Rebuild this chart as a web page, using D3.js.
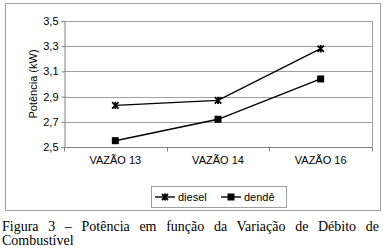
<!DOCTYPE html>
<html>
<head>
<meta charset="utf-8">
<script src="https://cdn.jsdelivr.net/npm/d3@7"></script>
<style>
	body { margin: 0; background: #fff; }
	.lbl { font-family: "Liberation Sans", Arial, sans-serif; }
</style>
</head>
<body>
<svg id="chart" width="383" height="250"></svg>
<script>
// data
const categories = ['VAZÃO 13', 'VAZÃO 14', 'VAZÃO 16'];
const diesel = [2.83, 2.87, 3.28];
const dende = [2.55, 2.72, 3.04];
const yTicks = [2.5, 2.7, 2.9, 3.1, 3.3, 3.5];
const seriesNames = ['diesel', 'dendê'];

const svg = d3.select('#chart');
const margin = {left: 64, right: 11, top: 21, bottom: 103};
const width = 383 - margin.left - margin.right,
	height = 250 - margin.top - margin.bottom;

// outer frame
svg.append('rect')
	.attr('x', 5.5).attr('y', 3.5)
	.attr('width', 375).attr('height', 207)
	.attr('fill', '#fff').attr('stroke', '#a0a0a0');

const g = svg.append('g')
	.attr('transform', 'translate(' + margin.left + ',' + margin.top + ')');

const x = d3.scaleBand().domain(categories).range([0, width]);
const y = d3.scaleLinear().domain([2.5, 3.5]).range([height, 0]);

// gridlines
g.append('g')
	.selectAll('line')
	.data(yTicks)
	.enter()
	.append('line')
	.attr('x1', 0).attr('x2', width)
	.attr('y1', d => Math.round(y(d)) + 0.5)
	.attr('y2', d => Math.round(y(d)) + 0.5)
	.attr('stroke', '#a0a0a0');

// right border of plot area
g.append('line')
	.attr('x1', width + 0.5).attr('x2', width + 0.5)
	.attr('y1', 0).attr('y2', height)
	.attr('stroke', '#a0a0a0');

// y axis
const yAxis = d3.axisLeft(y)
	.tickValues(yTicks)
	.tickSize(3)
	.tickPadding(3)
	.tickFormat(d => d3.format('.1f')(d).replace('.', ','));

const ya = g.append('g').attr('transform', 'translate(0.5,0)').call(yAxis);
ya.selectAll('path, line').attr('stroke', '#808080');
ya.selectAll('text').attr('class', 'lbl').attr('font-size', 11).attr('fill', '#000');

// x axis with ticks between categories
const xa = g.append('g').attr('transform', 'translate(0,' + (Math.round(height) + 0.5) + ')');
xa.append('line')
	.attr('x1', 0).attr('x2', width)
	.attr('stroke', '#808080');
xa.selectAll('.tick')
	.data(d3.range(categories.length + 1))
	.enter()
	.append('line')
	.attr('x1', i => Math.round(i * x.step()) + 0.5)
	.attr('x2', i => Math.round(i * x.step()) + 0.5)
	.attr('y1', 0).attr('y2', 4)
	.attr('stroke', '#808080');
xa.selectAll('text')
	.data(categories)
	.enter()
	.append('text')
	.attr('class', 'lbl')
	.attr('x', d => x(d) + x.bandwidth() / 2)
	.attr('y', 16)
	.attr('text-anchor', 'middle')
	.attr('font-size', 11)
	.text(d => d);

// y axis title
svg.append('text')
	.attr('class', 'lbl')
	.attr('transform', 'translate(37,' + (margin.top + height / 2) + ') rotate(-90)')
	.attr('text-anchor', 'middle')
	.attr('font-size', 11)
	.text('Potência (kW)');

const line = d3.line()
	.x((d, i) => x(categories[i]) + x.bandwidth() / 2)
	.y(d => y(d));

function starMarker(sel, s) {
	sel.append('path')
		.attr('d', 'M' + (-s) + ',' + (-s) + 'L' + s + ',' + s +
			'M' + (-s) + ',' + s + 'L' + s + ',' + (-s) +
			'M0,' + (-s - 0.5) + 'L0,' + (s + 0.5))
		.attr('stroke', '#000').attr('stroke-width', 1.8).attr('fill', 'none');
}

function squareMarker(sel, s) {
	sel.append('rect')
		.attr('x', -s).attr('y', -s)
		.attr('width', 2 * s).attr('height', 2 * s)
		.attr('fill', '#000');
}

[diesel, dende].forEach((vals, k) => {
	g.append('path')
		.datum(vals)
		.attr('d', line)
		.attr('fill', 'none')
		.attr('stroke', '#000')
		.attr('stroke-width', 1.4);

	let marks = g.selectAll('.m' + k)
		.data(vals)
		.enter()
		.append('g')
		.attr('transform', (d, i) => 'translate(' + (x(categories[i]) + x.bandwidth() / 2) + ',' + y(d) + ')');
	if (k === 0) starMarker(marks, 3.2);
	else squareMarker(marks, 3.5);
});

// legend
const legend = svg.append('g').attr('transform', 'translate(151,186)');
legend.append('rect')
	.attr('x', 0.5).attr('y', 0.5)
	.attr('width', 135).attr('height', 21)
	.attr('fill', '#fff').attr('stroke', '#a0a0a0');

const legendX = [4, 70];
seriesNames.forEach((name, k) => {
	let lg = legend.append('g').attr('transform', 'translate(' + legendX[k] + ',11)');
	lg.append('line').attr('x1', 0).attr('x2', 20)
		.attr('stroke', '#000').attr('stroke-width', 1.4);
	let m = lg.append('g').attr('transform', 'translate(10,0)');
	if (k === 0) starMarker(m, 3);
	else squareMarker(m, 3.5);
	lg.append('text')
		.attr('class', 'lbl')
		.attr('x', 23).attr('y', 4)
		.attr('font-size', 11)
		.text(name);
});

// caption, first line justified by stretching the word gaps
const capFont = '"Liberation Serif", "Times New Roman", serif';
const capLine1 = 'Figura 3 – Potência em função da Variação de Débito de';
let cap1 = svg.append('text')
	.attr('font-family', capFont)
	.attr('font-size', 14)
	.attr('x', 2).attr('y', 231)
	.text(capLine1);
let gaps = capLine1.split(' ').length - 1,
	extra = (377 - cap1.node().getComputedTextLength()) / gaps;
cap1.attr('word-spacing', Math.max(0, extra));

svg.append('text')
	.attr('font-family', capFont)
	.attr('font-size', 14)
	.attr('x', 2).attr('y', 245)
	.text('Combustível');
</script>
</body>
</html>
